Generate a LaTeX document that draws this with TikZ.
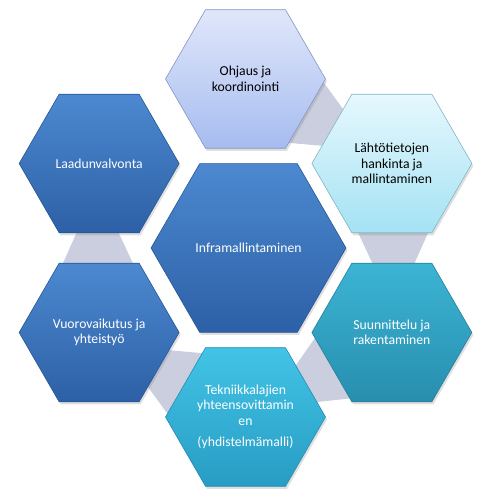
\documentclass[tikz,border=0pt]{standalone}
\usepackage{fontspec}
\setmainfont{Carlito}
\usepackage{xcolor}
\usetikzlibrary{calc,shapes.geometric,shadows}
\definecolor{bluetop}{RGB}{76,137,208}
\definecolor{bluebot}{RGB}{45,96,166}
\definecolor{lavtop}{RGB}{224,231,250}
\definecolor{lavbot}{RGB}{166,188,240}
\definecolor{cyantop}{RGB}{230,248,253}
\definecolor{cyanbot}{RGB}{164,226,244}
\definecolor{tealtop}{RGB}{60,180,212}
\definecolor{tealbot}{RGB}{40,142,174}
\definecolor{skytop}{RGB}{66,196,230}
\definecolor{skybot}{RGB}{40,156,196}
\definecolor{ringgray}{RGB}{202,206,222}

\begin{document}
\begin{tikzpicture}[x=1pt,y=1pt,
	hexa/.style={regular polygon,regular polygon sides=6,minimum size=160pt,inner sep=0pt,outer sep=0pt,line width=0.6pt,
		drop shadow={opacity=0.25,shadow xshift=1.5pt,shadow yshift=-2.5pt}},
	txt/.style={align=center,font=\fontsize{13.7}{15.5}\selectfont,text=white},
	darktxt/.style={txt,text=black}]
	\useasboundingbox (0,0) rectangle (484,-498);
	\coordinate (C) at (245.5,-248);
	\foreach \a in {0,60,180,240,300}{
		\begin{scope}[shift={(C)},rotate=\a]
			\fill[ringgray] (109,23) -- (186,23) -- (166,-22) -- (130,-22) -- cycle;
		\end{scope}
	}
	\node[hexa,top color=lavtop,bottom color=lavbot,draw=lavbot!80!black,label={[darktxt]center:Ohjaus ja\\koordinointi}] (ohjaus) at ($(C)+(90:169)$) {};
	\node[hexa,top color=cyantop,bottom color=cyanbot,draw=cyanbot!80!black,label={[darktxt]center:Lähtötietojen\\hankinta ja\\mallintaminen}] (lahto) at ($(C)+(30:169)$) {};
	\node[hexa,top color=tealtop,bottom color=tealbot,draw=tealbot!90!black,label={[txt]center:Suunnittelu ja\\rakentaminen}] (suunn) at ($(C)+(-30:169)$) {};
	\node[hexa,top color=skytop,bottom color=skybot,draw=skybot!90!black,label={[txt]center:Tekniikkalajien\\yhteensovittamin\\en\\[6pt](yhdistelmämalli)}] (tekn) at ($(C)+(-90:169)$) {};
	\node[hexa,top color=bluetop,bottom color=bluebot,draw=bluebot!90!black,label={[txt]center:Vuorovaikutus ja\\yhteistyö}] (vuoro) at ($(C)+(-150:169)$) {};
	\node[hexa,top color=bluetop,bottom color=bluebot,draw=bluebot!90!black,label={[txt]center:Laadunvalvonta}] (laatu) at ($(C)+(150:169)$) {};
	\node[hexa,minimum size=195pt,top color=bluetop,bottom color=bluebot,draw=bluebot!90!black,label={[txt]center:Inframallintaminen}] (infra) at ($(C)+(3,0)$) {};
\end{tikzpicture}
\end{document}
